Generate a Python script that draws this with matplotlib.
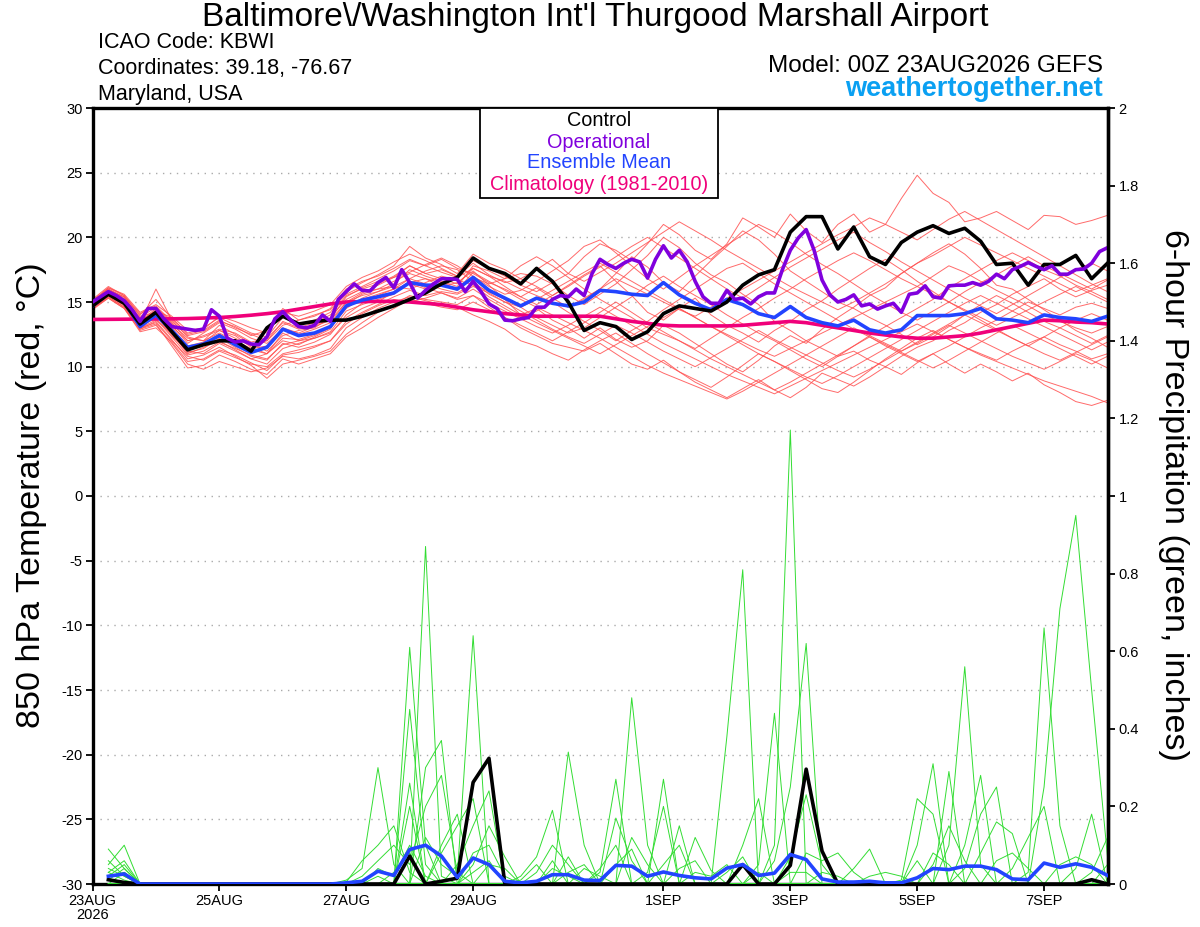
import numpy as np
import matplotlib
matplotlib.use("Agg")
import matplotlib.pyplot as plt
from matplotlib.patches import Rectangle

plt.rcParams['font.family'] = ['Liberation Sans', 'DejaVu Sans']

# ---------------- text ----------------
title = "Baltimore\\/Washington Int'l Thurgood Marshall Airport"
info_left = ["ICAO Code: KBWI", "Coordinates: 39.18, -76.67", "Maryland, USA"]
model_text = "Model: 00Z 23AUG2026 GEFS"
site_text = "weathertogether.net"
legend_labels = ["Control", "Operational", "Ensemble Mean", "Climatology (1981-2010)"]
ylabel_left = "850 hPa Temperature (red, °C)"
ylabel_right = "6-hour Precipitation (green, inches)"

# x axis: forecast hours
tick_hours = [0, 48, 96, 144, 216, 264, 312, 360]
tick_labels = ["23AUG\n2026", "25AUG", "27AUG", "29AUG", "1SEP", "3SEP", "5SEP", "7SEP"]
hours6 = np.arange(65) * 6      # 6-hourly output
hours3 = np.arange(129) * 3     # 3-hourly operational output

# ---------------- 850 hPa temperature (C) ----------------
control_temp = [14.7, 15.6, 14.9, 13.3, 14.2, 12.7, 11.3, 11.7,
                12.0, 12.0, 11.2, 13.0, 13.9, 13.3, 13.5, 13.6,
                13.6, 13.9, 14.3, 14.7, 15.2, 15.7, 16.4, 16.9,
                18.4, 17.6, 17.2, 16.4, 17.6, 16.6, 15.0, 12.8,
                13.4, 13.1, 12.1, 12.7, 14.1, 14.7, 14.5, 14.3,
                15.0, 16.3, 17.1, 17.5, 20.4, 21.6, 21.6, 19.1,
                20.8, 18.5, 17.9, 19.6, 20.4, 20.9, 20.3, 20.7,
                19.7, 17.9, 18.0, 16.3, 17.9, 17.9, 18.6, 16.8,
                18.0]

operational_temp = [15.0, 15.4, 15.8, 15.5, 15.1, 14.4, 13.5, 14.5,
                    14.5, 13.7, 13.1, 13.0, 12.9, 12.8, 12.9, 14.4,
                    13.9, 12.2, 11.9, 12.0, 11.75, 11.7, 12.3, 13.7,
                    14.25, 13.6, 13.1, 13.0, 13.2, 14.0, 13.5, 15.2,
                    15.8, 16.4, 15.9, 15.85, 16.5, 16.9, 16.1, 17.5,
                    16.5, 15.3, 15.9, 16.4, 16.8, 16.8, 16.75, 15.8,
                    16.6, 15.8, 14.85, 14.5, 13.6, 13.55, 13.7, 13.8,
                    14.6, 14.6, 15.2, 15.5, 15.4, 16.0, 15.5, 17.2,
                    18.3, 17.9, 17.6, 18.0, 18.3, 18.1, 16.85, 18.3,
                    19.35, 18.4, 19.0, 18.1, 16.6, 15.4, 14.9, 14.9,
                    15.9, 15.2, 15.3, 14.85, 15.4, 15.7, 15.7, 17.5,
                    19.0, 19.95, 20.6, 19.0, 16.7, 15.55, 15.0, 15.2,
                    15.55, 14.7, 14.85, 14.45, 14.7, 14.9, 14.2, 15.6,
                    15.7, 16.25, 15.4, 15.3, 16.25, 16.3, 16.3, 16.5,
                    16.3, 16.6, 17.15, 16.8, 17.5, 17.75, 18.05, 17.75,
                    17.5, 17.8, 17.15, 17.15, 17.5, 17.55, 18.0, 18.9,
                    19.2]

ens_mean_temp = [14.7, 15.7, 15.0, 13.1, 14.0, 12.8, 11.5, 11.75,
                 12.4, 11.7, 11.1, 11.5, 12.9, 12.4, 12.6, 13.1,
                 14.7, 15.15, 15.4, 15.7, 16.5, 16.3, 16.3, 16.0,
                 16.9, 15.9, 15.3, 14.7, 15.3, 14.9, 14.7, 15.0,
                 15.9, 15.8, 15.6, 15.5, 16.5, 15.55, 14.9, 14.4,
                 15.2, 14.8, 14.1, 13.8, 14.65, 13.8, 13.4, 13.15,
                 13.6, 12.85, 12.6, 12.85, 13.95, 13.95, 13.95, 14.1,
                 14.5, 13.7, 13.6, 13.4, 14.0, 13.8, 13.7, 13.5,
                 13.9]

climatology_temp = [13.65, 13.66, 13.67, 13.68, 13.69, 13.7, 13.72, 13.76,
                    13.8, 13.88, 13.98, 14.1, 14.25, 14.45, 14.65, 14.85,
                    15.0, 15.03, 15.05, 15.05, 15.0, 14.9, 14.8, 14.6,
                    14.4, 14.25, 14.1, 14.0, 13.9, 13.9, 13.9, 13.9,
                    13.9, 13.7, 13.5, 13.35, 13.2, 13.15, 13.15, 13.15,
                    13.15, 13.2, 13.3, 13.4, 13.5, 13.4, 13.2, 13.0,
                    12.8, 12.6, 12.45, 12.3, 12.2, 12.2, 12.3, 12.4,
                    12.6, 12.85, 13.1, 13.35, 13.6, 13.55, 13.45, 13.4,
                    13.3]

member_temps = [
    [15.0, 16.0, 15.3, 13.8, 14.6, 13.4, 12.0, 12.3, 12.8, 12.2, 11.6, 12.0, 13.5, 13.0, 13.4, 14.0,
     15.5, 16.0, 16.4, 17.0, 17.8, 17.2, 17.5, 17.0, 18.0, 17.1, 16.5, 16.8, 17.5, 18.3, 17.2, 18.5,
     19.5, 19.0, 18.2, 19.5, 21.0, 20.2, 19.0, 18.3, 19.5, 21.5, 20.8, 20.0, 21.8, 20.5, 19.6, 21.0,
     21.8, 20.4, 21.0, 23.0, 24.8, 23.4, 22.7, 21.2, 21.5, 22.0, 21.3, 20.6, 21.7, 21.6, 21.0, 21.3, 21.7],
    [14.6, 15.5, 14.8, 12.9, 13.5, 12.1, 10.6, 10.9, 11.5, 10.8, 10.1, 9.1, 10.2, 10.5, 10.8, 11.2,
     12.5, 13.4, 14.2, 14.8, 15.5, 15.2, 15.0, 14.8, 15.5, 14.6, 13.8, 13.0, 12.4, 11.8, 11.5, 11.2,
     11.8, 11.0, 10.2, 9.8, 10.5, 9.6, 8.8, 8.2, 7.6, 8.3, 9.0, 8.2, 7.6, 8.4, 9.5, 9.0,
     8.5, 9.2, 10.0, 9.4, 10.3, 11.0, 10.2, 9.5, 10.2, 9.6, 8.9, 9.5, 8.6, 8.0, 7.3, 7.0, 7.4],
    [14.9, 15.8, 15.1, 13.4, 16.0, 13.6, 12.3, 12.0, 13.2, 12.5, 11.8, 11.2, 12.4, 12.8, 13.0, 13.8,
     15.2, 15.8, 16.0, 16.6, 17.2, 16.8, 16.2, 16.5, 17.4, 16.3, 15.2, 14.0, 14.5, 13.6, 13.0, 12.2,
     13.0, 12.1, 11.5, 12.0, 13.2, 12.6, 11.8, 11.0, 10.2, 9.6, 10.5, 11.6, 12.4, 11.8, 12.9, 13.8,
     14.6, 15.5, 16.1, 17.2, 18.0, 18.8, 19.5, 18.7, 17.6, 16.3, 16.0, 15.2, 14.4, 13.6, 12.8, 12.2, 11.5],
    [14.5, 15.4, 14.6, 13.0, 13.6, 12.6, 11.0, 11.5, 12.0, 11.3, 10.6, 11.0, 12.6, 12.0, 12.2, 12.7,
     14.3, 14.8, 15.2, 15.6, 16.5, 16.8, 16.5, 16.0, 16.9, 16.4, 16.8, 17.2, 17.0, 16.4, 15.5, 14.8,
     15.6, 16.4, 17.5, 18.6, 20.0, 19.2, 18.0, 17.1, 16.5, 15.6, 14.8, 13.5, 12.8, 12.0, 11.4, 10.8,
     11.2, 10.5, 10.0, 10.8, 11.5, 12.0, 12.8, 13.4, 14.2, 14.8, 15.6, 16.2, 16.8, 16.0, 15.4, 15.9, 16.3],
    [14.8, 15.9, 15.4, 13.6, 14.3, 13.8, 12.5, 12.8, 13.6, 13.0, 12.5, 12.0, 13.2, 13.6, 14.0, 14.4,
     15.6, 16.2, 16.8, 17.4, 18.2, 17.8, 18.3, 17.6, 17.2, 16.5, 16.0, 15.4, 16.1, 15.3, 14.6, 15.2,
     16.0, 17.2, 18.5, 17.7, 16.5, 15.8, 17.0, 18.2, 19.3, 20.5, 19.8, 18.7, 17.4, 16.6, 15.8, 15.0,
     14.5, 13.8, 13.2, 12.5, 11.7, 12.3, 13.1, 14.0, 14.8, 15.5, 14.9, 14.2, 13.5, 13.0, 13.6, 14.1, 13.6],
    [15.1, 16.1, 15.6, 14.2, 14.8, 13.9, 12.8, 13.0, 13.8, 13.2, 12.6, 12.3, 13.8, 13.3, 13.6, 14.2,
     15.8, 16.5, 17.1, 17.8, 19.3, 18.4, 17.9, 17.2, 18.7, 18.0, 17.5, 16.8, 16.2, 15.5, 16.3, 17.1,
     17.8, 16.6, 15.5, 14.2, 13.6, 14.5, 15.3, 14.0, 13.2, 12.6, 11.9, 12.8, 13.5, 14.4, 15.1, 16.0,
     16.8, 17.6, 18.3, 17.5, 16.6, 15.8, 15.0, 14.3, 13.6, 12.9, 12.2, 11.6, 12.3, 13.0, 12.4, 11.8, 12.4],
    [14.4, 15.3, 14.5, 12.8, 13.2, 11.8, 10.2, 9.8, 10.4, 10.0, 9.6, 9.9, 10.8, 10.6, 10.9, 11.4,
     13.0, 13.8, 14.5, 15.0, 15.4, 15.1, 14.8, 14.6, 14.0, 13.5, 12.9, 12.0, 11.6, 11.0, 10.5, 11.3,
     12.0, 12.6, 11.8, 11.0, 10.3, 9.6, 9.0, 8.4, 9.2, 10.1, 11.0, 10.4, 9.7, 9.0, 8.3, 8.0,
     8.8, 9.7, 10.6, 11.4, 12.2, 12.8, 12.1, 11.5, 11.0, 10.5, 11.2, 11.8, 12.3, 11.7, 11.2, 10.6, 11.0],
    [15.2, 16.2, 15.5, 13.9, 14.2, 13.0, 11.6, 11.9, 12.8, 12.4, 11.5, 11.0, 12.0, 11.7, 12.3, 12.9,
     14.8, 15.6, 16.0, 16.2, 16.8, 17.4, 17.8, 17.5, 16.6, 15.6, 15.0, 14.6, 13.8, 13.2, 12.6, 13.0,
     13.8, 14.6, 15.4, 16.3, 17.0, 16.2, 15.5, 14.8, 14.0, 13.3, 12.6, 12.0, 11.3, 10.6, 10.0, 10.8,
     11.6, 12.4, 13.1, 13.8, 14.5, 15.2, 16.1, 16.8, 17.5, 18.2, 18.8, 18.2, 17.5, 17.0, 16.3, 15.8, 15.2],
    [14.7, 15.6, 15.0, 13.2, 13.9, 12.4, 11.2, 11.0, 11.8, 11.2, 10.6, 10.2, 11.4, 11.8, 12.2, 12.6,
     13.8, 14.5, 15.0, 15.8, 16.6, 16.1, 15.7, 15.3, 16.0, 15.2, 14.5, 13.8, 14.3, 15.0, 14.2, 13.5,
     12.8, 12.0, 12.8, 13.5, 14.4, 15.2, 16.0, 16.8, 17.6, 18.0, 17.2, 16.4, 15.7, 15.0, 14.3, 13.6,
     12.9, 12.3, 11.6, 11.0, 10.4, 11.0, 11.6, 12.3, 13.0, 13.6, 14.3, 15.0, 14.5, 14.0, 14.6, 14.9, 14.5],
    [14.9, 15.7, 14.9, 13.3, 14.4, 13.2, 11.8, 12.6, 13.4, 12.9, 12.2, 11.8, 12.9, 12.5, 12.9, 13.4,
     15.0, 15.5, 15.8, 16.4, 17.5, 17.0, 16.6, 16.2, 17.8, 17.4, 16.8, 17.8, 18.5, 17.8, 16.9, 16.0,
     15.2, 14.5, 13.8, 13.0, 12.5, 12.0, 11.4, 12.2, 13.0, 13.8, 14.5, 15.3, 16.0, 16.8, 17.5, 18.2,
     18.8, 18.2, 17.5, 16.8, 16.2, 17.0, 17.8, 17.3, 16.6, 15.9, 15.3, 14.7, 14.0, 13.5, 13.0, 12.6, 13.1],
    [14.6, 15.5, 14.7, 13.0, 13.4, 12.0, 10.8, 10.5, 11.2, 10.7, 10.2, 10.0, 11.0, 11.3, 11.6, 12.0,
     13.5, 14.2, 14.8, 15.4, 15.9, 15.5, 15.8, 15.6, 16.2, 15.7, 15.0, 14.3, 13.6, 12.9, 12.3, 11.8,
     12.5, 13.2, 12.6, 11.9, 11.2, 10.6, 10.0, 10.7, 11.4, 12.1, 12.8, 12.1, 11.5, 10.9, 11.6, 12.3,
     13.0, 12.4, 11.8, 11.2, 11.8, 12.5, 13.2, 12.6, 12.0, 11.4, 10.8, 10.3, 9.8, 10.4, 11.0, 10.5, 9.9],
    [15.0, 15.9, 15.2, 13.7, 14.0, 13.1, 12.0, 12.4, 12.9, 12.6, 11.9, 12.2, 13.4, 12.9, 13.2, 13.7,
     15.4, 16.1, 16.6, 16.9, 17.3, 17.9, 18.4, 17.8, 17.0, 16.2, 15.6, 15.9, 16.6, 17.4, 18.2, 19.3,
     19.8, 18.8, 17.8, 16.8, 16.0, 16.9, 17.8, 18.6, 19.4, 20.2, 21.0, 20.4, 19.6, 18.7, 17.9, 17.2,
     16.4, 15.6, 14.9, 14.2, 13.6, 14.3, 15.0, 15.8, 16.5, 17.1, 17.8, 18.5, 17.8, 17.2, 16.6, 16.0, 16.7],
    [14.8, 15.6, 14.9, 13.1, 14.1, 12.5, 11.1, 11.4, 12.2, 11.5, 10.8, 10.5, 11.8, 11.5, 11.9, 12.5,
     14.0, 14.9, 15.5, 16.0, 16.4, 16.0, 16.3, 15.9, 17.3, 16.6, 15.9, 15.2, 14.6, 14.0, 13.4, 12.8,
     12.2, 11.5, 10.8, 10.1, 9.5, 9.0, 8.5, 8.0, 7.5, 8.1, 8.8, 9.5, 10.2, 10.9, 10.3, 9.7,
     9.2, 9.8, 10.5, 11.2, 11.9, 12.6, 13.3, 14.0, 13.4, 12.8, 12.2, 11.6, 11.0, 10.5, 11.1, 11.7, 12.3],
    [15.1, 16.0, 15.4, 14.0, 15.2, 13.7, 12.6, 12.9, 13.9, 13.5, 13.0, 12.6, 14.2, 13.9, 14.3, 14.8,
     16.2, 16.9, 17.4, 18.1, 18.7, 18.2, 17.6, 17.0, 18.2, 17.6, 17.0, 16.3, 15.8, 16.5, 17.2, 16.6,
     17.3, 18.0, 18.8, 19.6, 20.4, 21.2, 20.5, 19.8, 19.0, 18.3, 17.6, 16.9, 16.2, 15.6, 15.0, 14.4,
     15.0, 15.7, 16.4, 17.2, 18.0, 18.6, 19.3, 20.0, 19.4, 18.8, 18.2, 17.6, 17.0, 16.4, 15.8, 16.3, 16.8],
    [14.5, 15.4, 14.6, 12.9, 13.3, 11.6, 9.9, 10.1, 10.9, 10.4, 9.8, 9.4, 10.6, 10.2, 10.6, 11.0,
     12.3, 13.0, 13.8, 14.5, 15.2, 14.9, 14.6, 14.4, 15.0, 14.4, 13.8, 13.2, 12.6, 12.0, 12.7, 13.4,
     14.2, 15.0, 14.2, 13.4, 12.7, 12.0, 11.3, 10.6, 10.0, 9.4, 8.8, 8.2, 8.8, 9.5, 10.2, 10.9,
     11.6, 12.3, 11.7, 11.1, 10.5, 9.9, 10.5, 11.2, 11.9, 12.6, 13.2, 12.6, 12.0, 11.4, 10.8, 10.2, 10.8],
    [14.7, 15.8, 15.1, 13.5, 14.5, 13.3, 12.2, 12.0, 12.6, 12.0, 11.4, 11.6, 13.0, 12.6, 13.1, 13.6,
     15.0, 15.7, 16.3, 16.9, 17.8, 17.2, 16.8, 16.4, 17.6, 17.0, 16.2, 15.4, 14.8, 15.5, 16.2, 17.0,
     17.7, 18.5, 19.3, 20.0, 19.2, 18.4, 17.6, 16.8, 16.0, 15.3, 16.1, 16.9, 17.7, 18.4, 19.1, 19.8,
     20.4, 19.6, 18.9, 18.1, 17.4, 16.7, 16.0, 15.3, 14.7, 14.1, 14.8, 15.5, 16.2, 16.9, 17.5, 18.0, 17.4],
    [14.6, 15.5, 14.8, 13.2, 13.7, 12.3, 10.9, 11.2, 11.9, 11.4, 10.9, 10.6, 11.7, 12.0, 12.4, 13.0,
     14.5, 15.3, 15.8, 16.2, 16.0, 16.5, 17.0, 16.7, 16.3, 15.4, 14.7, 14.0, 13.4, 12.8, 12.2, 11.6,
     11.0, 11.7, 12.4, 13.1, 13.8, 14.5, 13.8, 13.1, 12.4, 11.7, 11.0, 10.4, 9.8, 9.2, 8.7, 9.3,
     10.0, 10.7, 11.4, 12.1, 12.8, 13.5, 14.2, 14.9, 15.5, 14.9, 14.3, 13.7, 13.1, 12.5, 11.9, 11.3, 11.9],
    [15.0, 16.1, 15.5, 14.1, 14.7, 13.5, 12.4, 12.7, 13.5, 13.1, 12.4, 12.8, 14.5, 13.6, 13.9, 14.5,
     16.0, 16.6, 17.0, 17.6, 18.3, 17.8, 17.3, 16.9, 17.6, 17.0, 16.6, 16.0, 15.5, 15.0, 14.6, 15.3,
     16.0, 16.8, 16.2, 15.6, 15.0, 14.4, 13.9, 14.6, 15.3, 16.0, 16.7, 17.4, 18.1, 18.8, 19.5, 20.2,
     20.8, 21.5, 21.0, 20.4, 19.8, 20.6, 21.4, 22.0, 21.3, 20.6, 19.9, 19.2, 18.5, 17.8, 17.1, 16.4, 15.8],
    [14.8, 15.7, 15.0, 13.4, 14.0, 12.9, 11.4, 11.7, 12.5, 11.9, 11.3, 11.0, 12.2, 12.1, 12.5, 13.2,
     14.6, 15.2, 15.6, 16.0, 16.8, 16.4, 16.0, 15.7, 16.4, 15.8, 15.2, 14.6, 15.2, 15.9, 16.6, 17.3,
     18.0, 17.3, 16.6, 15.9, 15.2, 14.5, 13.8, 13.1, 12.5, 11.9, 11.3, 10.8, 11.4, 12.0, 12.6, 13.2,
     13.8, 14.4, 15.0, 15.6, 16.2, 15.6, 15.0, 14.4, 13.8, 13.2, 13.8, 14.4, 15.0, 15.6, 16.2, 15.6, 15.0],
    [14.5, 15.3, 14.5, 12.7, 13.0, 11.9, 10.4, 10.6, 11.3, 10.9, 10.3, 9.7, 10.9, 11.1, 11.5, 12.0,
     13.3, 14.1, 14.7, 15.2, 15.0, 15.3, 15.7, 15.2, 15.5, 14.9, 14.3, 13.7, 13.1, 12.6, 13.2, 13.9,
     14.6, 13.9, 13.2, 12.5, 11.8, 11.2, 10.6, 10.0, 9.4, 8.9, 8.4, 7.9, 8.5, 9.1, 9.7, 10.3,
     10.9, 11.5, 12.1, 12.7, 13.3, 12.7, 12.1, 11.5, 10.9, 10.4, 9.9, 9.4, 8.9, 8.5, 8.1, 7.7, 7.2],
]

# ---------------- 6-hour precipitation (inches) ----------------
# index 0 (analysis time) has no accumulation
control_precip = [np.nan, 0.011, 0.004, 0, 0, 0, 0, 0,
                  0, 0, 0, 0, 0, 0, 0, 0,
                  0, 0, 0, 0, 0.072, 0, 0.007, 0.015,
                  0.262, 0.324, 0, 0, 0, 0, 0, 0,
                  0, 0, 0, 0, 0, 0, 0, 0,
                  0, 0.05, 0, 0, 0.048, 0.296, 0.085, 0,
                  0, 0, 0, 0, 0, 0, 0, 0,
                  0, 0, 0, 0, 0, 0, 0, 0.011,
                  0]

ens_mean_precip = [np.nan, 0.02, 0.026, 0, 0, 0, 0, 0,
                   0, 0, 0, 0, 0, 0, 0, 0,
                   0.003, 0.007, 0.033, 0.022, 0.089, 0.10, 0.072, 0.017,
                   0.067, 0.05, 0.007, 0.003, 0.007, 0.024, 0.024, 0.01,
                   0.009, 0.048, 0.046, 0.02, 0.031, 0.022, 0.016, 0.013,
                   0.041, 0.05, 0.022, 0.028, 0.076, 0.063, 0.013, 0.005,
                   0.005, 0.007, 0.003, 0.003, 0.016, 0.04, 0.037, 0.046,
                   0.046, 0.037, 0.013, 0.011, 0.054, 0.043, 0.052, 0.043,
                   0.022]

# members: non-zero 6-h amounts by output step (all other steps 0)
member_precip_steps = [
    {1: 0.09, 2: 0.04, 27: 0.02, 28: 0.07, 29: 0.19, 44: 0.03, 45: 0.03, 53: 0.08, 54: 0.05},
    {1: 0.05, 2: 0.10, 24: 0.03, 25: 0.06, 30: 0.34, 31: 0.10, 53: 0.05, 54: 0.15, 55: 0.06},
    {1: 0.03, 2: 0.06, 16: 0.01, 17: 0.04, 18: 0.30, 19: 0.05, 27: 0.01, 28: 0.05, 32: 0.03,
     33: 0.27, 54: 0.10, 55: 0.56, 56: 0.05},
    {1: 0.02, 2: 0.03, 28: 0.03, 29: 0.10, 30: 0.05, 34: 0.48, 35: 0.10, 55: 0.10, 56: 0.28},
    {1: 0.04, 2: 0.02, 16: 0.005, 17: 0.06, 18: 0.10, 19: 0.15, 20: 0.03, 30: 0.07, 36: 0.27,
     55: 0.04, 56: 0.18, 57: 0.25},
    {1: 0.01, 2: 0.04, 20: 0.61, 21: 0.10, 29: 0.04, 30: 0.02, 37: 0.15, 56: 0.08, 57: 0.16, 58: 0.13},
    {1: 0.03, 2: 0.01, 18: 0.02, 20: 0.45, 21: 0.05, 31: 0.04, 32: 0.02, 38: 0.12, 39: 0.035,
     57: 0.06, 58: 0.08, 59: 0.04},
    {1: 0.02, 2: 0.05, 20: 0.26, 29: 0.06, 40: 0.38, 41: 0.81, 58: 0.04, 59: 0.12, 60: 0.20},
    {1: 0.06, 2: 0.02, 20: 0.20, 30: 0.03, 31: 0.05, 41: 0.10, 42: 0.22, 59: 0.03, 60: 0.66, 61: 0.15},
    {1: 0.01, 21: 0.87, 22: 0.02, 32: 0.04, 33: 0.10, 42: 0.05, 43: 0.44, 60: 0.25, 61: 0.71,
     62: 0.95, 63: 0.50, 64: 0.07},
    {2: 0.03, 21: 0.30, 22: 0.37, 33: 0.17, 34: 0.06, 43: 0.10, 44: 1.17, 61: 0.05, 62: 0.07, 63: 0.05},
    {17: 0.02, 18: 0.06, 19: 0.10, 20: 0.05, 21: 0.20, 22: 0.28, 23: 0.03, 33: 0.05, 34: 0.09,
     43: 0.06, 44: 0.25, 45: 0.62, 62: 0.04, 63: 0.18},
    {18: 0.04, 19: 0.02, 20: 0.10, 21: 0.02, 34: 0.12, 35: 0.05, 44: 0.07, 45: 0.23, 46: 0.05,
     63: 0.03, 64: 0.12},
    {19: 0.03, 20: 0.08, 22: 0.10, 23: 0.18, 35: 0.03, 36: 0.20, 45: 0.08, 46: 0.06, 47: 0.08,
     48: 0.03, 64: 0.05},
    {21: 0.12, 22: 0.05, 23: 0.02, 24: 0.64, 36: 0.05, 37: 0.10, 46: 0.03, 47: 0.02},
    {22: 0.08, 23: 0.15, 24: 0.22, 37: 0.04, 38: 0.06, 48: 0.04, 49: 0.09},
    {23: 0.05, 24: 0.15, 25: 0.24, 38: 0.03, 39: 0.02, 40: 0.05, 49: 0.02, 50: 0.03, 51: 0.02},
    {24: 0.05, 25: 0.15, 26: 0.07, 40: 0.03, 41: 0.07, 51: 0.01, 52: 0.22, 53: 0.18},
    {24: 0.08, 25: 0.10, 26: 0.02, 41: 0.05, 52: 0.10, 53: 0.31},
    {25: 0.05, 26: 0.04, 42: 0.03, 52: 0.06, 54: 0.29},
]

# ---------------- colours ----------------
c_member_t = '#FF5050'
c_member_p = '#33DD33'
c_control = '#000000'
c_oper = '#8000DD'
c_mean = '#2244FF'
c_clim = '#F0007A'
c_site = '#0AA0F2'

# ---------------- figure ----------------
W, H = 1200, 927
fig = plt.figure(figsize=(W / 100, H / 100), dpi=100)
L, R, T, B = 92.5, 1107.5, 108, 884
ax = fig.add_axes([L / W, 1 - B / H, (R - L) / W, (B - T) / H])
ax2 = ax.twinx()

for mt in member_temps:
    ax.plot(hours6, mt, color=c_member_t, lw=0.7, alpha=0.85, zorder=2)
ax.plot(hours6, climatology_temp, color=c_clim, lw=2.6, zorder=3)
ax.plot(hours6, ens_mean_temp, color=c_mean, lw=2.6, zorder=4)
ax.plot(hours6, control_temp, color=c_control, lw=2.6, zorder=5)
ax.plot(hours3, operational_temp, color=c_oper, lw=2.6, zorder=6)

for steps in member_precip_steps:
    pr = np.zeros(65)
    pr[0] = np.nan
    for k, v in steps.items():
        pr[k] = v
    ax2.plot(hours6, pr, color=c_member_p, lw=0.7, zorder=2)
ax2.plot(hours6, control_precip, color=c_control, lw=2.6, zorder=4)
ax2.plot(hours6, ens_mean_precip, color=c_mean, lw=2.6, zorder=5)

# axes setup
ax.set_xlim(0, 384)
ax.set_ylim(-30, 30)
ax2.set_ylim(0, 2)
ax.set_yticks(np.arange(-30, 31, 5))
ax.set_yticklabels([str(v) for v in range(-30, 31, 5)])
ax.set_xticks(tick_hours)
ax.set_xticklabels(tick_labels)
rt = np.round(np.arange(0, 2.01, 0.2), 1)
ax2.set_yticks(rt)
ax2.set_yticklabels([('%g' % v) for v in rt])

for a in (ax, ax2):
    for s in a.spines.values():
        s.set_linewidth(2.4)
ax2.spines['left'].set_visible(False)
ax2.spines['top'].set_visible(False)
ax2.spines['bottom'].set_visible(False)

ax.tick_params(axis='y', direction='out', length=5, width=1.3, labelsize=10.5, pad=2)
ax.tick_params(axis='x', direction='out', length=5, width=1.3, labelsize=10.5, pad=2)
ax2.tick_params(axis='y', direction='out', length=5, width=1.3, labelsize=10.5, pad=3)
for lab in ax.get_xticklabels():
    lab.set_linespacing(1.0)

for yv in range(-25, 30, 5):
    ax.axhline(yv, color='#AAAAAA', lw=1.0, ls=(0, (1, 4)), zorder=1)

# axis titles placed by their centres
fig.text(32 / W, 1 - 495 / H, ylabel_left, rotation=90, ha='center', va='center', fontsize=24.5)
fig.text(1173 / W, 1 - 495 / H, ylabel_right, rotation=270, ha='center', va='center', fontsize=24.5)

# header texts
fig.text(595 / W, 1 - 26 / H, title, ha='center', va='baseline', fontsize=24)
for txt, yb in zip(info_left, [48, 74, 100]):
    fig.text(98 / W, 1 - yb / H, txt, ha='left', va='baseline', fontsize=15.5)
fig.text(1103 / W, 1 - 72 / H, model_text, ha='right', va='baseline', fontsize=17.5)
fig.text(1103 / W, 1 - 96 / H, site_text, ha='right', va='baseline', fontsize=19.5,
         fontweight='bold', color=c_site)

# legend box
bx0, bx1, by0, by1 = 480, 718, 108, 198
fig.add_artist(Rectangle((bx0 / W, 1 - by1 / H), (bx1 - bx0) / W, (by1 - by0) / H,
                         transform=fig.transFigure, facecolor='white', edgecolor='black',
                         lw=1.3, zorder=10))
for txt, col, yc in zip(legend_labels, [c_control, c_oper, c_mean, c_clim], [121, 142, 163, 185]):
    fig.text((bx0 + bx1) / 2 / W, 1 - yc / H, txt, ha='center', va='center', fontsize=14.3,
             color=col, zorder=11)

fig.savefig('out.png', dpi=100)
